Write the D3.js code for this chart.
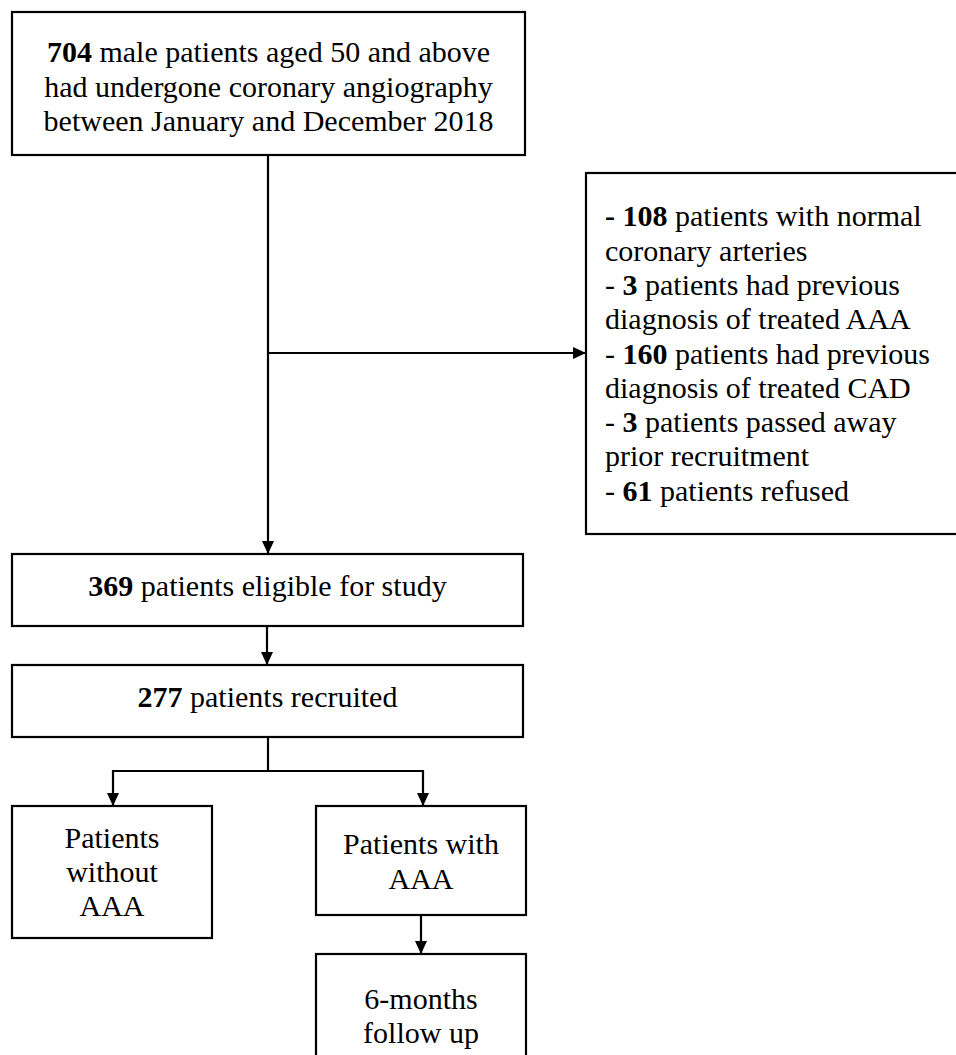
<!DOCTYPE html>
<html>
<head>
<meta charset="utf-8">
<script src="https://cdn.jsdelivr.net/npm/d3@7"></script>
<style>
  html, body { margin: 0; padding: 0; background: #fff; overflow: hidden; }
  svg { display: block; }
</style>
</head>
<body>
<script>
// page size
var width = 956,
	height = 1055;

// counts shown in bold in the flow diagram
var totalCount = 704,
	exclusionCounts = [108, 3, 160, 3, 61],
	eligibleCount = 369,
	recruitedCount = 277;

// text of every box, one entry per line, each line is a list of [text, bold]
var screeningLines = [
	[[String(totalCount), true], [" male patients aged 50 and above", false]],
	[["had undergone coronary angiography", false]],
	[["between January and December 2018", false]]
];

var exclusionLines = [
	[["- ", true], [String(exclusionCounts[0]), true], [" patients with normal", false]],
	[["coronary arteries", false]],
	[["- ", false], [String(exclusionCounts[1]), true], [" patients had previous", false]],
	[["diagnosis of treated AAA", false]],
	[["- ", false], [String(exclusionCounts[2]), true], [" patients had previous", false]],
	[["diagnosis of treated CAD", false]],
	[["- ", false], [String(exclusionCounts[3]), true], [" patients passed away", false]],
	[["prior recruitment", false]],
	[["- ", false], [String(exclusionCounts[4]), true], [" patients refused", false]]
];

var eligibleLines = [[[String(eligibleCount), true], [" patients eligible for study", false]]];
var recruitedLines = [[[String(recruitedCount), true], [" patients recruited", false]]];
var noAaaLines = [[["Patients", false]], [["without", false]], [["AAA", false]]];
var aaaLines = [[["Patients with", false]], [["AAA", false]]];
var followLines = [[["6-months", false]], [["follow up", false]]];

// box layout: x, y, w, h, text alignment and a small baseline nudge
var boxes = [
	{ x: 12,  y: 12,  w: 513, h: 143, lines: screeningLines, align: 'middle', off: 13 },
	{ x: 586, y: 173, w: 380, h: 361, lines: exclusionLines, align: 'start',  off: 10 },
	{ x: 12,  y: 554, w: 511, h: 72,  lines: eligibleLines,  align: 'middle', off: 6 },
	{ x: 12,  y: 665, w: 511, h: 72,  lines: recruitedLines, align: 'middle', off: 6 },
	{ x: 12,  y: 806, w: 200, h: 132, lines: noAaaLines,     align: 'middle', off: 10 },
	{ x: 316, y: 806, w: 210, h: 109, lines: aaaLines,       align: 'middle', off: 11 },
	{ x: 316, y: 954, w: 210, h: 122, lines: followLines,    align: 'middle', off: 11 }
];

var fontSize = 30,
	lineHeight = 34.3;

var svg = d3.select('body')
	.append('svg')
	.attr('width', width)
	.attr('height', height);

// arrow head marker
svg.append('defs').append('marker')
	.attr('id', 'arrow')
	.attr('viewBox', '0 0 13 12')
	.attr('refX', 13)
	.attr('refY', 6)
	.attr('markerWidth', 13)
	.attr('markerHeight', 12)
	.attr('markerUnits', 'userSpaceOnUse')
	.attr('orient', 'auto')
	.append('path')
	.attr('d', 'M0,0 L13,6 L0,12 Z')
	.attr('fill', '#000');

// connectors, drawn first so boxes sit on top
var links = [
	{ pts: [[268, 155], [268, 554]], arrow: true },
	{ pts: [[268, 353], [586, 353]], arrow: true },
	{ pts: [[267, 626], [267, 665]], arrow: true },
	{ pts: [[268, 737], [268, 771]], arrow: false },
	{ pts: [[113, 771], [423, 771]], arrow: false },
	{ pts: [[113, 770], [113, 806]], arrow: true },
	{ pts: [[423, 770], [423, 806]], arrow: true },
	{ pts: [[421, 915], [421, 954]], arrow: true }
];

var line = d3.line();

svg.append('g').selectAll('path')
	.data(links)
	.enter().append('path')
	.attr('d', function(d) { return line(d.pts); })
	.attr('fill', 'none')
	.attr('stroke', '#000')
	.attr('stroke-width', 2.2)
	.attr('marker-end', function(d) { return d.arrow ? 'url(#arrow)' : null; });

var box = svg.append('g').selectAll('g')
	.data(boxes)
	.enter().append('g');

box.append('rect')
	.attr('x', function(d) { return d.x; })
	.attr('y', function(d) { return d.y; })
	.attr('width', function(d) { return d.w; })
	.attr('height', function(d) { return d.h; })
	.attr('fill', '#fff')
	.attr('stroke', '#000')
	.attr('stroke-width', 2.2);

// one text per box, one tspan row per line, bold runs as inner tspans
box.each(function(d) {
	var n = d.lines.length,
		cy = d.y + d.h / 2,
		tx = d.align === 'middle' ? d.x + d.w / 2 : d.x + 19;

	var text = d3.select(this).append('text')
		.attr('font-family', '"Liberation Serif", "Times New Roman", serif')
		.attr('font-size', fontSize)
		.attr('fill', '#000')
		.attr('text-anchor', d.align);

	d.lines.forEach(function(ln, i) {
		var row = text.append('tspan')
			.attr('x', tx)
			.attr('y', cy + (i - (n - 1) / 2) * lineHeight + d.off);
		row.selectAll('tspan')
			.data(ln)
			.enter().append('tspan')
			.attr('font-weight', function(s) { return s[1] ? 'bold' : 'normal'; })
			.text(function(s) { return s[0]; });
	});
});
</script>
</body>
</html>
